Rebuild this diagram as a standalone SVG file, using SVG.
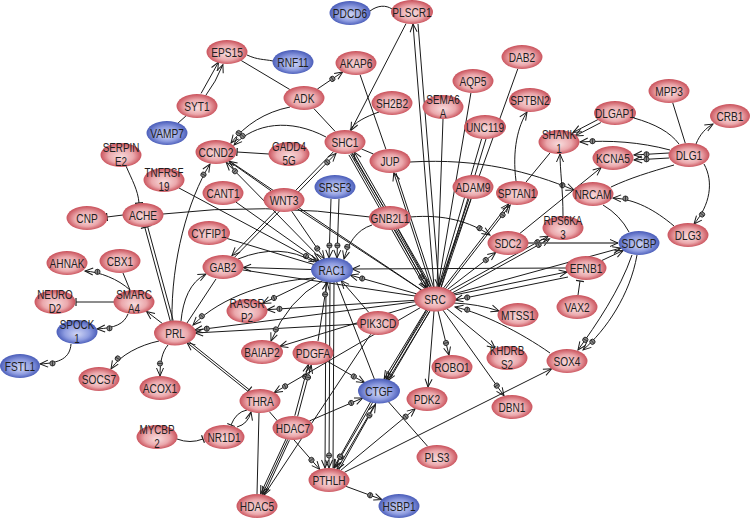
<svg xmlns="http://www.w3.org/2000/svg" width="750" height="519" viewBox="0 0 750 519">
<style>
.e line,.e path{stroke:#1a1a1a;stroke-width:1;fill:none}
.t{font-family:"Liberation Sans",Arial,sans-serif;font-size:13px;fill:#1e1e1e;text-anchor:middle;transform:scale(.78,1)}
.t2{font-size:12px;transform:scale(.82,1)}
.r{fill:url(#gr)}
.b{fill:url(#gb)}
</style>
<defs>
<radialGradient id="gr" cx=".5" cy=".5" r=".55" fx=".5" fy=".6">
<stop offset="0" stop-color="#f8dcdd"/><stop offset=".55" stop-color="#eba8ac"/><stop offset="1" stop-color="#c23e49"/>
</radialGradient>
<radialGradient id="gb" cx=".5" cy=".5" r=".55" fx=".5" fy=".6">
<stop offset="0" stop-color="#d0d6f5"/><stop offset=".55" stop-color="#8e9ce0"/><stop offset="1" stop-color="#3a4eb0"/>
</radialGradient>
<marker id="a" markerUnits="userSpaceOnUse" markerWidth="12" markerHeight="12" refX="0" refY="0" orient="auto" style="overflow:visible"><path d="M-8,-3.5 L0,0 L-8,3.5" fill="none" stroke="#1a1a1a" stroke-width="1"/></marker>
<marker id="ac" markerUnits="userSpaceOnUse" markerWidth="12" markerHeight="12" refX="0" refY="0" orient="auto" style="overflow:visible"><path d="M-8,-3.5 L0,0 L-8,3.5" fill="none" stroke="#1a1a1a" stroke-width="1"/><circle cx="-12.5" cy="0" r="2.6" fill="#888" stroke="#1a1a1a" stroke-width=".8"/><path d="M-12.5,-2.6 V2.6" stroke="#1a1a1a" stroke-width=".7"/></marker>
<marker id="t" markerUnits="userSpaceOnUse" markerWidth="12" markerHeight="12" refX="0" refY="0" orient="auto" style="overflow:visible"><path d="M0,-4 V4" stroke="#1a1a1a" stroke-width="1.2"/></marker>
</defs>
<rect width="750" height="519" fill="#fff"/>
<g id="connectors" class="e">
<path d="M370,11 C378,5 386,5 392,9"/>
<line x1="406.1" y1="23.5" x2="350.9" y2="130.5" marker-end="url(#a)"/>
<line x1="434" y1="287" x2="413" y2="24" marker-end="url(#a)"/>
<line x1="418" y1="24" x2="439" y2="287" marker-end="url(#a)"/>
<line x1="201.1" y1="93.4" x2="218.5" y2="62.2" marker-end="url(#a)"/>
<path d="M205.5,95.8 Q216,82 222.9,64.6" marker-end="url(#a)"/>
<line x1="185.9" y1="116" x2="178.1" y2="123"/>
<path d="M247,55 C258,60 263,59 273,61"/>
<line x1="241.2" y1="60.5" x2="289.8" y2="89.5"/>
<line x1="317.3" y1="89.1" x2="342.7" y2="71.9" marker-end="url(#ac)"/>
<line x1="313.8" y1="108.5" x2="335.2" y2="131.5"/>
<path d="M290,107 C265,112 245,125 231,143" marker-end="url(#ac)"/>
<path d="M326,137 C290,118 255,123 234,145" marker-end="url(#ac)"/>
<line x1="269" y1="154" x2="237" y2="152" marker-end="url(#t)"/>
<line x1="360.1" y1="74.8" x2="385.9" y2="149.2"/>
<path d="M379,112 C365,117 355,122 350,130"/>
<line x1="361.4" y1="148.9" x2="373.6" y2="154.1"/>
<path d="M410,162 C480,158 530,172 574,190" marker-end="url(#ac)"/>
<line x1="443" y1="119" x2="437" y2="287"/>
<line x1="470.9" y1="93" x2="438" y2="287"/>
<line x1="481.6" y1="138.8" x2="438.4" y2="287.2"/>
<line x1="486" y1="139" x2="441" y2="287"/>
<line x1="517.8" y1="68.8" x2="439.2" y2="287.2"/>
<path d="M516,181 C512,150 518,126 527,112" marker-end="url(#a)"/>
<line x1="525.9" y1="182.2" x2="550.1" y2="152.8"/>
<path d="M563,216 C563,190 560,170 560,154" marker-end="url(#a)"/>
<line x1="599" y1="119" x2="573.2" y2="132.4" marker-end="url(#a)"/>
<line x1="600.8" y1="122.6" x2="575" y2="136" marker-end="url(#a)"/>
<path d="M670,150 C640,142 610,140 580,142" marker-end="url(#ac)"/>
<line x1="669" y1="153" x2="634" y2="155" marker-end="url(#ac)"/>
<line x1="669" y1="158" x2="634" y2="160" marker-end="url(#ac)"/>
<path d="M634,118 C655,124 670,132 679,144"/>
<line x1="672.7" y1="102.7" x2="685.3" y2="143.3"/>
<path d="M696,144 C700,134 706,128 713,124" marker-end="url(#a)"/>
<path d="M704,164 C714,182 710,205 694,224" marker-end="url(#ac)"/>
<path d="M674,165 C650,172 630,178 611,187"/>
<line x1="519.9" y1="233.4" x2="601.1" y2="167.6" marker-end="url(#a)"/>
<path d="M674,226 C655,210 635,199 613,198" marker-end="url(#ac)"/>
<path d="M603,205 Q620,215 629,232"/>
<line x1="449.7" y1="290.9" x2="548.3" y2="236.1" marker-end="url(#ac)"/>
<line x1="451.2" y1="293.5" x2="549.5" y2="238.8" marker-end="url(#ac)"/>
<line x1="528" y1="243" x2="618" y2="243" marker-end="url(#a)" style="stroke:#555;stroke-width:1.3"/>
<line x1="566" y1="268" x2="352" y2="269" marker-end="url(#a)"/>
<line x1="601.8" y1="260.5" x2="623.2" y2="250.5" marker-end="url(#a)"/>
<line x1="453.9" y1="295.1" x2="567.1" y2="271.9" marker-end="url(#a)"/>
<line x1="453.2" y1="294" x2="620.8" y2="248" marker-end="url(#a)"/>
<line x1="578" y1="295" x2="580" y2="281" marker-end="url(#t)"/>
<path d="M632,255 C620,290 596,325 578,350" marker-end="url(#ac)"/>
<path d="M637,255 C630,295 606,330 583,350" marker-end="url(#ac)"/>
<line x1="568" y1="277" x2="455" y2="300" marker-end="url(#ac)"/>
<path d="M550,353 C520,332 482,313 455,307" marker-end="url(#ac)"/>
<path d="M454,303 Q478,304 499,311" marker-end="url(#a)"/>
<line x1="446.8" y1="308.7" x2="495.2" y2="348.3" marker-end="url(#a)"/>
<line x1="438" y1="310.9" x2="449" y2="355.1" marker-end="url(#ac)"/>
<line x1="434" y1="311" x2="428" y2="387" marker-end="url(#a)"/>
<line x1="443" y1="310.2" x2="504" y2="395.8" marker-end="url(#ac)"/>
<line x1="344.4" y1="472.3" x2="551.6" y2="368.7" marker-end="url(#a)"/>
<line x1="123" y1="215" x2="107" y2="217" marker-end="url(#t)"/>
<path d="M126,166 C132,180 138,190 139,203" marker-end="url(#t)"/>
<path d="M163,214 Q265,202 370,217"/>
<line x1="170.4" y1="321.5" x2="144.8" y2="227.3" marker-end="url(#t)"/>
<line x1="173.2" y1="320.7" x2="147.6" y2="226.5" marker-end="url(#t)"/>
<line x1="162.5" y1="323.6" x2="146.5" y2="311.4" marker-end="url(#a)"/>
<path d="M130,290 C118,279 100,272 85,271" marker-end="url(#ac)"/>
<line x1="123" y1="273" x2="130" y2="290"/>
<line x1="114" y1="302" x2="76" y2="302" marker-end="url(#t)"/>
<path d="M128,314 C124,324 115,328 97,329" marker-end="url(#ac)"/>
<path d="M71,344 C70,358 60,363 40,364" marker-end="url(#ac)"/>
<path d="M159,341 C140,345 120,355 111,369" marker-end="url(#ac)"/>
<path d="M168,345 C162,352 160,362 160,376" marker-end="url(#ac)"/>
<path d="M181,321 C183,300 190,282 206,274" marker-end="url(#a)"/>
<path d="M172,321 C171,260 188,200 210,164" marker-end="url(#ac)"/>
<line x1="216" y1="279" x2="187" y2="323"/>
<path d="M314,278 C270,281 222,296 193,325" marker-end="url(#ac)"/>
<line x1="415.6" y1="301.7" x2="194.4" y2="330.3" marker-end="url(#ac)"/>
<line x1="358" y1="324" x2="195" y2="333" marker-end="url(#a)"/>
<line x1="248" y1="391.4" x2="187" y2="342.6" marker-end="url(#a)"/>
<line x1="188.3" y1="341" x2="249.3" y2="389.8" marker-end="url(#t)"/>
<line x1="179" y1="188" x2="317" y2="262" marker-end="url(#ac)"/>
<line x1="236" y1="202.2" x2="319" y2="260.8" marker-end="url(#a)"/>
<line x1="226.8" y1="238.4" x2="314.2" y2="264.6"/>
<line x1="333.8" y1="151.4" x2="232" y2="255.6" marker-end="url(#a)"/>
<line x1="234.2" y1="257.6" x2="336" y2="153.4" marker-end="url(#ac)"/>
<line x1="291.7" y1="211.2" x2="324.3" y2="258.8" marker-end="url(#ac)"/>
<line x1="297.4" y1="208.8" x2="421.6" y2="290.2"/>
<line x1="321.8" y1="259.7" x2="226.2" y2="162.3" marker-end="url(#ac)"/>
<line x1="271" y1="190.8" x2="229" y2="161.2" marker-end="url(#a)"/>
<line x1="331" y1="199" x2="329" y2="258" marker-end="url(#ac)"/>
<line x1="339" y1="199" x2="337" y2="258" marker-end="url(#ac)"/>
<path d="M372,225 C356,230 348,244 344,259" marker-end="url(#ac)"/>
<path d="M410,217 C445,214 470,222 490,235" marker-end="url(#ac)"/>
<line x1="348.9" y1="154.9" x2="425.9" y2="289.1" marker-end="url(#a)"/>
<line x1="350.6" y1="153.9" x2="427.6" y2="288.1" marker-end="url(#ac)"/>
<line x1="352.4" y1="152.9" x2="429.4" y2="287.1"/>
<line x1="431.1" y1="286.1" x2="354.1" y2="151.9" marker-end="url(#a)"/>
<line x1="431.2" y1="287.2" x2="393.8" y2="172.8" marker-end="url(#a)"/>
<line x1="433.5" y1="287" x2="396" y2="173"/>
<line x1="395.1" y1="230.1" x2="427.3" y2="288.3" marker-end="url(#a)"/>
<line x1="397.7" y1="228.7" x2="429.9" y2="286.9"/>
<line x1="469" y1="198.7" x2="439" y2="287.3"/>
<line x1="471" y1="199.4" x2="441" y2="288"/>
<line x1="443.4" y1="288.1" x2="508.6" y2="203.9" marker-end="url(#a)"/>
<line x1="445" y1="289.3" x2="510.2" y2="205.1" marker-end="url(#ac)"/>
<line x1="447.3" y1="289.6" x2="495.7" y2="252.4" marker-end="url(#ac)"/>
<line x1="416.8" y1="293.9" x2="350.2" y2="275.1" marker-end="url(#ac)"/>
<line x1="368.8" y1="312.4" x2="341.2" y2="280.6" marker-end="url(#a)"/>
<line x1="426.4" y1="309.4" x2="384.2" y2="378.6" marker-end="url(#a)"/>
<line x1="428.1" y1="310.4" x2="385.9" y2="379.6" marker-end="url(#a)"/>
<line x1="429.8" y1="311.4" x2="387.6" y2="380.6" marker-end="url(#a)"/>
<line x1="427" y1="309.6" x2="334.4" y2="467.8" marker-end="url(#ac)"/>
<line x1="429.6" y1="311.2" x2="337" y2="469.4" marker-end="url(#a)"/>
<line x1="370.8" y1="401.5" x2="333.8" y2="467.5" marker-end="url(#ac)"/>
<line x1="338.5" y1="470.5" x2="375.5" y2="404.5" marker-end="url(#ac)"/>
<line x1="309.3" y1="421" x2="362.7" y2="398" marker-end="url(#ac)"/>
<line x1="294.8" y1="415.7" x2="308.4" y2="364.5" marker-end="url(#ac)"/>
<line x1="297.6" y1="416.5" x2="311.2" y2="365.3" marker-end="url(#ac)"/>
<line x1="286.2" y1="438.6" x2="260.6" y2="493.8" marker-end="url(#a)"/>
<line x1="287.8" y1="439.4" x2="262.2" y2="494.6" marker-end="url(#a)"/>
<line x1="289.4" y1="440.2" x2="263.8" y2="495.4" marker-end="url(#a)"/>
<line x1="269.3" y1="411.6" x2="319.7" y2="469.4" marker-end="url(#ac)"/>
<line x1="259" y1="413" x2="257" y2="494"/>
<line x1="420.7" y1="307.4" x2="274.3" y2="392.6" marker-end="url(#ac)"/>
<path d="M247,410 Q236,412 231,425" marker-end="url(#t)"/>
<path d="M237,427 Q248,424 251,412" marker-end="url(#a)"/>
<path d="M177,439 Q190,444 203,439" marker-end="url(#t)"/>
<line x1="346.1" y1="486.4" x2="381.9" y2="499.6" marker-end="url(#ac)"/>
<line x1="340.8" y1="470.3" x2="415.2" y2="408.7" marker-end="url(#ac)"/>
<line x1="388.3" y1="401.6" x2="427.7" y2="446.4"/>
<line x1="326" y1="282" x2="325" y2="468" marker-end="url(#a)"/>
<line x1="330" y1="282" x2="329" y2="468" marker-end="url(#ac)"/>
<line x1="334" y1="282" x2="333" y2="468"/>
<line x1="318" y1="341" x2="327" y2="282" marker-end="url(#ac)"/>
<path d="M322,281 Q288,300 271,341" marker-end="url(#ac)"/>
<line x1="316.3" y1="277.6" x2="262.7" y2="303.4" marker-end="url(#ac)"/>
<line x1="312" y1="269.5" x2="243" y2="267.5" marker-end="url(#a)"/>
<path d="M238,259 Q280,242 314,262"/>
<line x1="417.2" y1="304.5" x2="279.8" y2="346.5" marker-end="url(#a)"/>
<line x1="415" y1="300.3" x2="267" y2="309.7" marker-end="url(#ac)"/>
<line x1="327.4" y1="361.3" x2="364.6" y2="382.7" marker-end="url(#ac)"/>
<line x1="242.4" y1="269.9" x2="415.6" y2="296.1"/>
<line x1="264.4" y1="494.7" x2="370.6" y2="334.3"/>
<line x1="336.5" y1="281.6" x2="374.5" y2="379.4"/>
<line x1="229.3" y1="160.9" x2="421.7" y2="290.1"/>
<line x1="351.7" y1="153.4" x2="383.3" y2="206.6"/>
</g>
<g id="nodes">
<g id="n-PDCD6" transform="translate(350,13)"><ellipse class="b" rx="20.5" ry="12"/><text class="t" y="4.5">PDCD6</text></g>
<g id="n-PLSCR1" transform="translate(412,12)"><ellipse class="r" rx="21" ry="12"/><text class="t" y="4.5">PLSCR1</text></g>
<g id="n-EPS15" transform="translate(227,52)"><ellipse class="r" rx="20.5" ry="12"/><text class="t" y="4.5">EPS15</text></g>
<g id="n-RNF11" transform="translate(293,62)"><ellipse class="b" rx="20.5" ry="12"/><text class="t" y="4.5">RNF11</text></g>
<g id="n-AKAP6" transform="translate(356,63)"><ellipse class="r" rx="20.5" ry="12"/><text class="t" y="4.5">AKAP6</text></g>
<g id="n-ADK" transform="translate(304,98)"><ellipse class="r" rx="20.5" ry="12"/><text class="t" y="4.5">ADK</text></g>
<g id="n-SH2B2" transform="translate(392,103)"><ellipse class="r" rx="20.5" ry="12"/><text class="t" y="4.5">SH2B2</text></g>
<g id="n-SEMA6A" transform="translate(443,107)"><ellipse class="r" rx="20.5" ry="12"/><text class="t t2"><tspan x="0" y="-3">SEMA6</tspan><tspan x="0" y="10.5">A</tspan></text></g>
<g id="n-AQP5" transform="translate(473,81)"><ellipse class="r" rx="20.5" ry="12"/><text class="t" y="4.5">AQP5</text></g>
<g id="n-DAB2" transform="translate(522,57)"><ellipse class="r" rx="20.5" ry="12"/><text class="t" y="4.5">DAB2</text></g>
<g id="n-SPTBN2" transform="translate(530,100)"><ellipse class="r" rx="21" ry="12"/><text class="t" y="4.5">SPTBN2</text></g>
<g id="n-UNC119" transform="translate(485,127)"><ellipse class="r" rx="21" ry="12"/><text class="t" y="4.5">UNC119</text></g>
<g id="n-MPP3" transform="translate(669,91)"><ellipse class="r" rx="20.5" ry="12"/><text class="t" y="4.5">MPP3</text></g>
<g id="n-DLGAP1" transform="translate(615,113)"><ellipse class="r" rx="21" ry="12"/><text class="t" y="4.5">DLGAP1</text></g>
<g id="n-CRB1" transform="translate(730,116)"><ellipse class="r" rx="20" ry="12"/><text class="t" y="4.5">CRB1</text></g>
<g id="n-SHANK1" transform="translate(559,142)"><ellipse class="r" rx="20.5" ry="12"/><text class="t t2"><tspan x="0" y="-3">SHANK</tspan><tspan x="0" y="10.5">1</tspan></text></g>
<g id="n-KCNA5" transform="translate(613,158)"><ellipse class="r" rx="20.5" ry="12"/><text class="t" y="4.5">KCNA5</text></g>
<g id="n-DLG1" transform="translate(689,155)"><ellipse class="r" rx="20.5" ry="12"/><text class="t" y="4.5">DLG1</text></g>
<g id="n-SYT1" transform="translate(197,106)"><ellipse class="r" rx="20.5" ry="12"/><text class="t" y="4.5">SYT1</text></g>
<g id="n-VAMP7" transform="translate(167,133)"><ellipse class="b" rx="20.5" ry="12"/><text class="t" y="4.5">VAMP7</text></g>
<g id="n-SERPINE2" transform="translate(121,155)"><ellipse class="r" rx="20.5" ry="12"/><text class="t t2"><tspan x="0" y="-3">SERPIN</tspan><tspan x="0" y="10.5">E2</tspan></text></g>
<g id="n-CCND2" transform="translate(216,152)"><ellipse class="r" rx="20.5" ry="12"/><text class="t" y="4.5">CCND2</text></g>
<g id="n-GADD45G" transform="translate(289,154)"><ellipse class="r" rx="20.5" ry="12"/><text class="t t2"><tspan x="0" y="-3">GADD4</tspan><tspan x="0" y="10.5">5G</tspan></text></g>
<g id="n-SHC1" transform="translate(345,142)"><ellipse class="r" rx="20.5" ry="12"/><text class="t" y="4.5">SHC1</text></g>
<g id="n-JUP" transform="translate(390,161)"><ellipse class="r" rx="20.5" ry="12"/><text class="t" y="4.5">JUP</text></g>
<g id="n-TNFRSF19" transform="translate(164,180)"><ellipse class="r" rx="20.5" ry="12"/><text class="t t2"><tspan x="0" y="-3">TNFRSF</tspan><tspan x="0" y="10.5">19</tspan></text></g>
<g id="n-CANT1" transform="translate(223,193)"><ellipse class="r" rx="20.5" ry="12"/><text class="t" y="4.5">CANT1</text></g>
<g id="n-WNT3" transform="translate(284,200)"><ellipse class="r" rx="20.5" ry="12"/><text class="t" y="4.5">WNT3</text></g>
<g id="n-SRSF3" transform="translate(335,187)"><ellipse class="b" rx="20.5" ry="12"/><text class="t" y="4.5">SRSF3</text></g>
<g id="n-ADAM9" transform="translate(473,187)"><ellipse class="r" rx="20.5" ry="12"/><text class="t" y="4.5">ADAM9</text></g>
<g id="n-SPTAN1" transform="translate(517,193)"><ellipse class="r" rx="21" ry="12"/><text class="t" y="4.5">SPTAN1</text></g>
<g id="n-NRCAM" transform="translate(593,194)"><ellipse class="r" rx="20.5" ry="12"/><text class="t" y="4.5">NRCAM</text></g>
<g id="n-GNB2L1" transform="translate(390,218)"><ellipse class="r" rx="21" ry="12"/><text class="t" y="4.5">GNB2L1</text></g>
<g id="n-CNP" transform="translate(87,218)"><ellipse class="r" rx="20.5" ry="12"/><text class="t" y="4.5">CNP</text></g>
<g id="n-ACHE" transform="translate(143,215)"><ellipse class="r" rx="20.5" ry="12"/><text class="t" y="4.5">ACHE</text></g>
<g id="n-CYFIP1" transform="translate(209,233)"><ellipse class="r" rx="21" ry="12"/><text class="t" y="4.5">CYFIP1</text></g>
<g id="n-RPS6KA3" transform="translate(563,228)"><ellipse class="r" rx="20.5" ry="12"/><text class="t t2"><tspan x="0" y="-3">RPS6KA</tspan><tspan x="0" y="10.5">3</tspan></text></g>
<g id="n-DLG3" transform="translate(688,235)"><ellipse class="r" rx="20.5" ry="12"/><text class="t" y="4.5">DLG3</text></g>
<g id="n-SDC2" transform="translate(508,243)"><ellipse class="r" rx="20.5" ry="12"/><text class="t" y="4.5">SDC2</text></g>
<g id="n-SDCBP" transform="translate(639,243)"><ellipse class="b" rx="20.5" ry="12"/><text class="t" y="4.5">SDCBP</text></g>
<g id="n-AHNAK" transform="translate(67,263)"><ellipse class="r" rx="20.5" ry="12"/><text class="t" y="4.5">AHNAK</text></g>
<g id="n-CBX1" transform="translate(120,261)"><ellipse class="r" rx="20.5" ry="12"/><text class="t" y="4.5">CBX1</text></g>
<g id="n-GAB2" transform="translate(223,267)"><ellipse class="r" rx="20.5" ry="12"/><text class="t" y="4.5">GAB2</text></g>
<g id="n-RAC1" transform="translate(332,270)"><ellipse class="b" rx="21" ry="12.5"/><text class="t" y="4.5">RAC1</text></g>
<g id="n-EFNB1" transform="translate(586,268)"><ellipse class="r" rx="20.5" ry="12"/><text class="t" y="4.5">EFNB1</text></g>
<g id="n-SRC" transform="translate(435,299)"><ellipse class="r" rx="21" ry="12.5"/><text class="t" y="4.5">SRC</text></g>
<g id="n-NEUROD2" transform="translate(55,302)"><ellipse class="r" rx="20.5" ry="12"/><text class="t t2"><tspan x="0" y="-3">NEURO</tspan><tspan x="0" y="10.5">D2</tspan></text></g>
<g id="n-SMARCA4" transform="translate(134,302)"><ellipse class="r" rx="20.5" ry="12"/><text class="t t2"><tspan x="0" y="-3">SMARC</tspan><tspan x="0" y="10.5">A4</tspan></text></g>
<g id="n-RASGRP2" transform="translate(247,311)"><ellipse class="r" rx="20.5" ry="12"/><text class="t t2"><tspan x="0" y="-3">RASGR</tspan><tspan x="0" y="10.5">P2</tspan></text></g>
<g id="n-VAX2" transform="translate(577,307)"><ellipse class="r" rx="20.5" ry="12"/><text class="t" y="4.5">VAX2</text></g>
<g id="n-MTSS1" transform="translate(518,315)"><ellipse class="r" rx="20.5" ry="12"/><text class="t" y="4.5">MTSS1</text></g>
<g id="n-PIK3CD" transform="translate(378,323)"><ellipse class="r" rx="21" ry="12"/><text class="t" y="4.5">PIK3CD</text></g>
<g id="n-SPOCK1" transform="translate(77,332)"><ellipse class="b" rx="20.5" ry="12"/><text class="t t2"><tspan x="0" y="-3">SPOCK</tspan><tspan x="0" y="10.5">1</tspan></text></g>
<g id="n-PRL" transform="translate(175,333)"><ellipse class="r" rx="21" ry="12.5"/><text class="t" y="4.5">PRL</text></g>
<g id="n-BAIAP2" transform="translate(262,352)"><ellipse class="r" rx="21" ry="12"/><text class="t" y="4.5">BAIAP2</text></g>
<g id="n-PDGFA" transform="translate(313,353)"><ellipse class="r" rx="20.5" ry="12"/><text class="t" y="4.5">PDGFA</text></g>
<g id="n-ROBO1" transform="translate(452,367)"><ellipse class="r" rx="20.5" ry="12"/><text class="t" y="4.5">ROBO1</text></g>
<g id="n-KHDRBS2" transform="translate(507,358)"><ellipse class="r" rx="20.5" ry="12"/><text class="t t2"><tspan x="0" y="-3">KHDRB</tspan><tspan x="0" y="10.5">S2</tspan></text></g>
<g id="n-SOX4" transform="translate(567,361)"><ellipse class="r" rx="20.5" ry="12"/><text class="t" y="4.5">SOX4</text></g>
<g id="n-FSTL1" transform="translate(20,366)"><ellipse class="b" rx="20" ry="12"/><text class="t" y="4.5">FSTL1</text></g>
<g id="n-SOCS7" transform="translate(99,379)"><ellipse class="r" rx="20.5" ry="12"/><text class="t" y="4.5">SOCS7</text></g>
<g id="n-ACOX1" transform="translate(160,388)"><ellipse class="r" rx="20.5" ry="12"/><text class="t" y="4.5">ACOX1</text></g>
<g id="n-CTGF" transform="translate(379,391)"><ellipse class="b" rx="21" ry="12.5"/><text class="t" y="4.5">CTGF</text></g>
<g id="n-PDK2" transform="translate(427,399)"><ellipse class="r" rx="20.5" ry="12"/><text class="t" y="4.5">PDK2</text></g>
<g id="n-THRA" transform="translate(260,401)"><ellipse class="r" rx="20.5" ry="12"/><text class="t" y="4.5">THRA</text></g>
<g id="n-DBN1" transform="translate(512,407)"><ellipse class="r" rx="20.5" ry="12"/><text class="t" y="4.5">DBN1</text></g>
<g id="n-HDAC7" transform="translate(293,428)"><ellipse class="r" rx="20.5" ry="12"/><text class="t" y="4.5">HDAC7</text></g>
<g id="n-MYCBP2" transform="translate(157,437)"><ellipse class="r" rx="20.5" ry="12"/><text class="t t2"><tspan x="0" y="-3">MYCBP</tspan><tspan x="0" y="10.5">2</tspan></text></g>
<g id="n-NR1D1" transform="translate(224,437)"><ellipse class="r" rx="20.5" ry="12"/><text class="t" y="4.5">NR1D1</text></g>
<g id="n-PLS3" transform="translate(437,457)"><ellipse class="r" rx="20.5" ry="12"/><text class="t" y="4.5">PLS3</text></g>
<g id="n-PTHLH" transform="translate(329,480)"><ellipse class="r" rx="20.5" ry="12"/><text class="t" y="4.5">PTHLH</text></g>
<g id="n-HSBP1" transform="translate(399,506)"><ellipse class="b" rx="20.5" ry="12"/><text class="t" y="4.5">HSBP1</text></g>
<g id="n-HDAC5" transform="translate(257,506)"><ellipse class="r" rx="20.5" ry="12"/><text class="t" y="4.5">HDAC5</text></g>
</g>
</svg>
